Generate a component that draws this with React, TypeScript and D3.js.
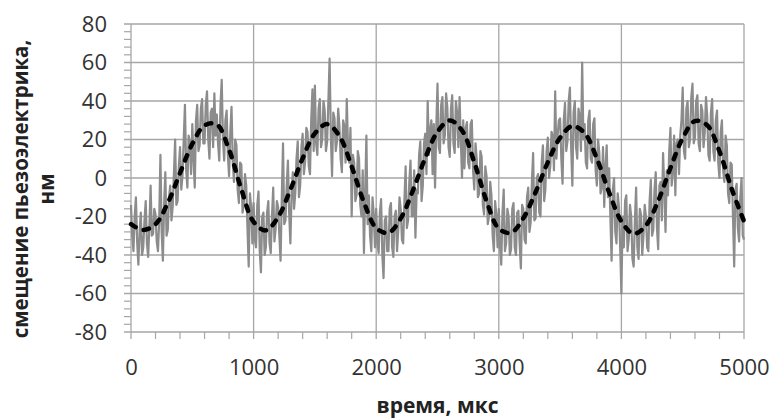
import * as d3 from "d3";
import { useEffect, useRef } from "react";

// raw piezo signal, one sample every 10 мкс
const sampleStep = 10;
const rawSignal = [
  -14, -30, -38, -20, -10, -33, -45, -28, -18, -40,
  -36, -22, -12, -34, -41, -25, -4, -30, -29, -16,
  -19, -33, -38, -22, 12, -28, -43, -14, 3, -30,
  -27, -10, -4, -22, -15, 2, 20, -14, -12, 6,
  16, -6, 1, 20, 38, 4, -5, 22, 19, 2,
  28, 10, -5, 30, 38, 14, 17, 36, 41, 18,
  18, 38, 45, 20, 10, 34, 36, 16, 44, 22,
  33, 18, 9, 38, 51, 20, 9, 30, 35, 12,
  1, 24, 37, 8, -2, 20, 17, -6, -13, 8,
  7, -18, -14, 2, -4, -26, -46, -8, -15, -34,
  -13, -32, -36, -14, -7, -38, -49, -20, -18, -40,
  -36, -18, -12, -34, -39, -20, -5, -33, -26, -12,
  -15, -30, -43, -10, 18, -24, -22, -4, 9, -18,
  -34, -8, 3, -16, -8, 10, 19, -10, -4, 16,
  23, 2, 8, 26, 24, 6, 2, 30, 46, 14,
  48, 18, 12, 36, 41, 16, 20, 40, 35, 14,
  19, 40, 62, 22, 1, 34, 31, 14, 19, 36,
  27, 10, 3, 30, 27, 8, 41, 16, 8, 26,
  -20, 12, 8, -12, -9, 14, 10, -14, -20, 4,
  -39, -8, 22, -24, -9, -30, -38, -10, -19, -36,
  -16, -34, -39, -18, -11, -40, -52, -22, -20, -38,
  -38, -16, -13, -36, -41, -20, -17, -38, -27, -10,
  -16, -32, -34, -12, 6, -26, -22, -2, 9, -20,
  -20, 4, -31, -6, -8, 12, 19, -12, -4, 18,
  23, 2, 40, 12, 25, 30, 2, 28, -5, 26,
  49, 16, 13, 38, 42, 18, 22, 44, 37, 16,
  11, 36, 43, 18, 13, 40, 34, 16, 42, 20,
  0, 30, 5, 26, 29, 8, 5, 28, 30, 4,
  -6, 18, 10, -10, -8, 14, 11, -14, -19, 6,
  1, -24, -20, -2, -9, -30, -38, -12, -19, -36,
  -16, -36, -45, -18, -6, -38, -34, -16, -20, -40,
  -37, -16, -13, -36, -40, -18, -17, -34, -47, -14,
  -16, -32, -34, -10, -5, -28, -23, -2, 13, -22,
  -21, 0, 2, -18, -20, 8, 17, -12, -6, 14,
  21, 0, 6, 24, 22, 4, 45, 10, 22, 30,
  31, 10, -3, 30, 39, 14, 19, 40, 47, 16,
  -4, 34, 40, 16, 10, 36, 32, 14, 60, 20,
  28, 8, 5, 30, 35, 10, 8, 28, 31, 4,
  -4, 20, 13, -8, -5, 16, -15, 6, 17, -10,
  5, -20, -43, -6, 0, -28, -34, -8, -15, -36,
  -60, -20, -36, -12, -9, -38, -32, -14, -20, -42,
  -46, -22, -5, -36, -42, -16, -19, -40, -30, -14,
  -20, -36, -38, -12, -1, -30, -27, -6, 3, -26,
  -37, -4, -2, -22, 13, -6, -28, 4, -9, 14,
  26, -4, 3, 22, -9, 18, 20, 2, 22, 30,
  47, 14, 10, 36, 40, 16, 20, 42, 49, 18,
  21, 40, 43, 18, 14, 38, 35, 16, 24, 42,
  32, 12, 9, 34, 41, 14, 9, 30, 35, 8,
  0, 24, 30, 4, -2, 22, 17, -8, -13, 8,
  7, -20, -46, -6, -3, -26, -33, -10, 0, -30,
  -32,
];

// fitted curve (dashed), one point every 100 мкс
const fitStep = 100;
const fitCurve = [
  -24, -27, -24, -13, 2.6, 17.7, 27.3, 27.8, 14.7, -5.9,
  -22.8, -27.2, -20.3, -6.1, 10.2, 23.2, 28, 21.8, 6, -12.6,
  -26, -28.5, -21, -6.4, 10.4, 24, 29.9, 24.7, 8.2, -12,
  -26.3, -28.4, -20.9, -7.4, 8.2, 20.9, 27, 23.3, 10.1, -7.5,
  -22.5, -29, -24.7, -11.9, 5.2, 20.7, 29.6, 27.4, 13.8, -5.7,
  -22.4,
];

const xTicks = [0, 1000, 2000, 3000, 4000, 5000];
const yTicks = [-80, -60, -40, -20, 0, 20, 40, 60, 80];
const xMinorStep = 200;
const yMinorStep = 4;
const xTitle = "время, мкс";
const yTitle = ["смещение пьезоэлектрика,", "нм"];

export default function App() {
  const svgRef = useRef<SVGSVGElement>(null);

  useEffect(() => {
    if (!svgRef.current) return;
    const svg = d3.select(svgRef.current);
    svg.selectAll("*").remove();

    const width = 775;
    const height = 418;
    const marginLeft = 131;
    const marginRight = 31;
    const marginTop = 24;
    const marginBottom = 86;
    const gridColor = "#a6a6a6";
    const font = "'Open Sans', 'Liberation Sans', sans-serif";

    const x = d3.scaleLinear().domain([0, 5000]).range([marginLeft, width - marginRight]);
    const y = d3.scaleLinear().domain([-80, 80]).range([height - marginBottom, marginTop]);

    const xMinor = d3.range(0, 5001, xMinorStep).filter(v => !xTicks.includes(v));
    const yMinor = d3.range(-80, 81, yMinorStep).filter(v => !yTicks.includes(v));

    // gridlines (the outer ones double as the plot frame)
    svg.append("g")
      .attr("stroke", gridColor)
      .attr("stroke-width", 1.3)
      .call(g => g.selectAll("line.h").data(yTicks).join("line")
        .attr("x1", x(0) - 7).attr("x2", x(5000))
        .attr("y1", d => y(d)).attr("y2", d => y(d)))
      .call(g => g.selectAll("line.v").data(xTicks).join("line")
        .attr("x1", d => x(d)).attr("x2", d => x(d))
        .attr("y1", y(80)).attr("y2", y(-80) + 7));

    // minor ticks
    svg.append("g")
      .attr("stroke", gridColor)
      .attr("stroke-width", 1.2)
      .call(g => g.selectAll("line.ym").data(yMinor).join("line")
        .attr("x1", x(0) - 7).attr("x2", x(0))
        .attr("y1", d => y(d)).attr("y2", d => y(d)))
      .call(g => g.selectAll("line.xm").data(xMinor).join("line")
        .attr("x1", d => x(d)).attr("x2", d => x(d))
        .attr("y1", y(-80)).attr("y2", y(-80) + 7));

    // tick labels
    svg.append("g")
      .attr("transform", `translate(${marginLeft},0)`)
      .call(d3.axisLeft(y).tickValues(yTicks).tickSize(7).tickPadding(17).tickFormat(d => String(d)))
      .call(g => g.select(".domain").remove())
      .call(g => g.selectAll(".tick line").remove())
      .call(g => g.selectAll("text").attr("font-family", font).attr("font-size", 22).attr("fill", "#333"));

    svg.append("g")
      .attr("transform", `translate(0,${height - marginBottom})`)
      .call(d3.axisBottom(x).tickValues(xTicks).tickSize(7).tickPadding(20).tickFormat(d => String(d)))
      .call(g => g.select(".domain").remove())
      .call(g => g.selectAll(".tick line").remove())
      .call(g => g.selectAll("text").attr("font-family", font).attr("font-size", 22).attr("fill", "#333"));

    // raw signal
    const rawLine = d3.line<number>()
      .x((_, i) => x(i * sampleStep))
      .y(d => y(d));
    svg.append("path")
      .attr("d", rawLine(rawSignal))
      .attr("fill", "none")
      .attr("stroke", "#8c8c8c")
      .attr("stroke-width", 2.2)
      .attr("stroke-linejoin", "round");

    // fitted sine
    const fitLine = d3.line<number>()
      .x((_, i) => x(i * fitStep))
      .y(d => y(d))
      .curve(d3.curveCatmullRom.alpha(0.5));
    svg.append("path")
      .attr("d", fitLine(fitCurve))
      .attr("fill", "none")
      .attr("stroke", "#000")
      .attr("stroke-width", 4.5)
      .attr("stroke-dasharray", "5.5 8.5")
      .attr("stroke-linecap", "round");

    // axis titles
    svg.append("text")
      .attr("x", (x(0) + x(5000)) / 2)
      .attr("y", 413)
      .attr("text-anchor", "middle")
      .attr("font-family", font)
      .attr("font-weight", "bold")
      .attr("font-size", 21)
      .attr("fill", "#222")
      .text(xTitle);

    svg.append("g")
      .attr("transform", "translate(0,189) rotate(-90)")
      .selectAll("text")
      .data(yTitle)
      .join("text")
      .attr("x", 0)
      .attr("y", (_, i) => 28 + i * 26)
      .attr("text-anchor", "middle")
      .attr("font-family", font)
      .attr("font-weight", "bold")
      .attr("font-size", 20.5)
      .attr("fill", "#222")
      .text(d => d);
  }, []);

  return (
    <svg
      ref={svgRef}
      width={775}
      height={418}
      viewBox="0 0 775 418"
      style={{ position: "absolute", left: 0, top: 0, background: "#fff" }}
    />
  );
}
